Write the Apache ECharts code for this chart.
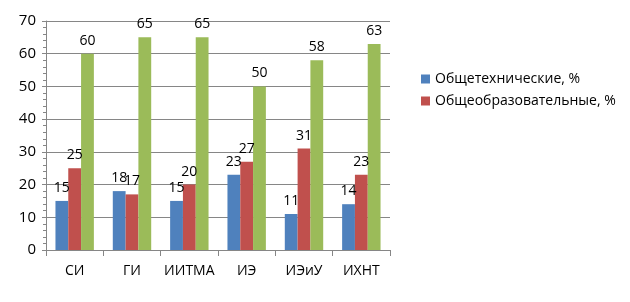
<!DOCTYPE html>
<html><head><meta charset="utf-8">
<script src="https://cdn.jsdelivr.net/npm/echarts@6/dist/echarts.min.js"></script>
<style>html,body{margin:0;padding:0;background:#fff}#c{width:630px;height:302px}</style>
</head><body><div id="c"></div>
<script>
var categories = ['СИ','ГИ','ИИТМА','ИЭ','ИЭиУ','ИХНТ'];
var seriesNames = ['Общетехнические, %','Общеобразовательные, %','Специальные, %'];
var techValues = [15,18,15,23,11,14];
var eduValues = [25,17,20,27,31,23];
var specValues = [60,65,65,50,58,63];
var colors = ['#4f81bd','#c0504d','#9bbb59'];

var chart = echarts.init(document.getElementById('c'));
function mk(name, data, color){
  return {name:name,type:'bar',data:data,barGap:'0%',barCategoryGap:'33%',
    itemStyle:{color:color},
    label:{show:true,position:'top',distance:6,color:'#000',fontSize:14}};
}
chart.setOption({
  animation:false,
  textStyle:{fontFamily:'"Open Sans", sans-serif'},
  grid:{left:46,right:240,top:21,bottom:52,containLabel:false},
  legend:{data:[seriesNames[0],seriesNames[1]],orient:'vertical',left:416,top:67,itemWidth:9,itemHeight:9,itemGap:8,
    icon:'rect',textStyle:{fontSize:14,color:'#000'}},
  xAxis:{type:'category',data:categories,
    axisLine:{lineStyle:{color:'#868686'}},
    axisTick:{show:true,length:6,lineStyle:{color:'#868686'}},
    axisLabel:{color:'#000',fontSize:14,margin:14,interval:0}},
  yAxis:{type:'value',min:0,max:70,interval:10,
    axisLine:{show:true,lineStyle:{color:'#868686'}},
    axisTick:{show:true,inside:false,length:4,lineStyle:{color:'#868686'}},
    minorTick:{show:true,splitNumber:5,length:3,lineStyle:{color:'#868686'}},
    axisLabel:{color:'#000',fontSize:15,margin:10},
    splitLine:{lineStyle:{color:'#868686'}}},
  series:[mk(seriesNames[0],techValues,colors[0]),mk(seriesNames[1],eduValues,colors[1]),mk(seriesNames[2],specValues,colors[2])]
});
</script></body></html>
